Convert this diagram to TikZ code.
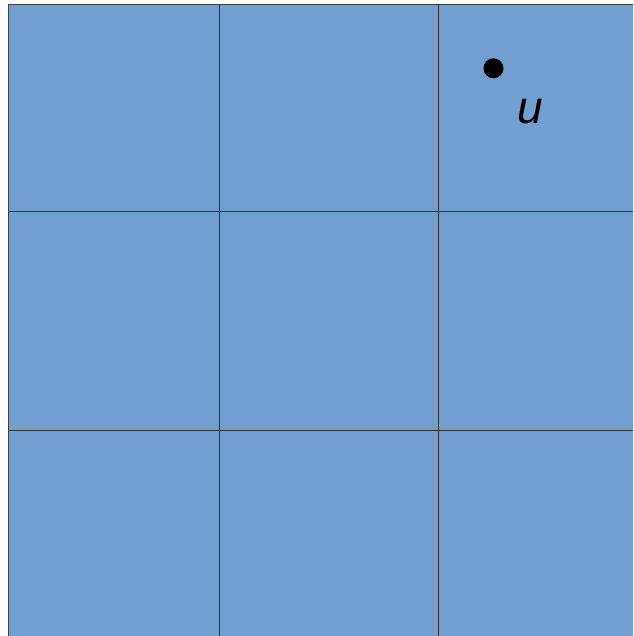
\documentclass[tikz,border=0pt]{standalone}
\usepackage{fontspec}
\setmainfont{Liberation Sans}
\usetikzlibrary{positioning}

\definecolor{cellblue}{HTML}{729FCF}

\begin{document}
\begin{tikzpicture}[
    x=1pt, y=1pt,
    every node/.style={font=\itshape},
]
\useasboundingbox (0, 0) rectangle (633, 636);
\clip (0, 0) rectangle (633, 636);

% === Grid of cells ===
\fill[cellblue] (8.5, -20) rectangle (660, 631.5);
% Outer edges
\draw[line width=1.2pt, black!75] (8.5, -20) -- (8.5, 631.5) -- (660, 631.5);
% Inner lines
\draw[line width=1pt, black!80] (219, -20) -- (219, 631.5);
\draw[line width=1pt, black!80] (438, -20) -- (438, 631.5);
\draw[line width=1pt, black!80] (8.5, 424) -- (660, 424);
\draw[line width=1pt, black!80] (8.5, 205) -- (660, 205);

% === Point u ===
\fill[black] (493.5, 567.7) circle (10);
\node[font=\fontsize{46}{50}\selectfont\itshape] (ulabel) at (530, 524) {u};

\end{tikzpicture}
\end{document}
